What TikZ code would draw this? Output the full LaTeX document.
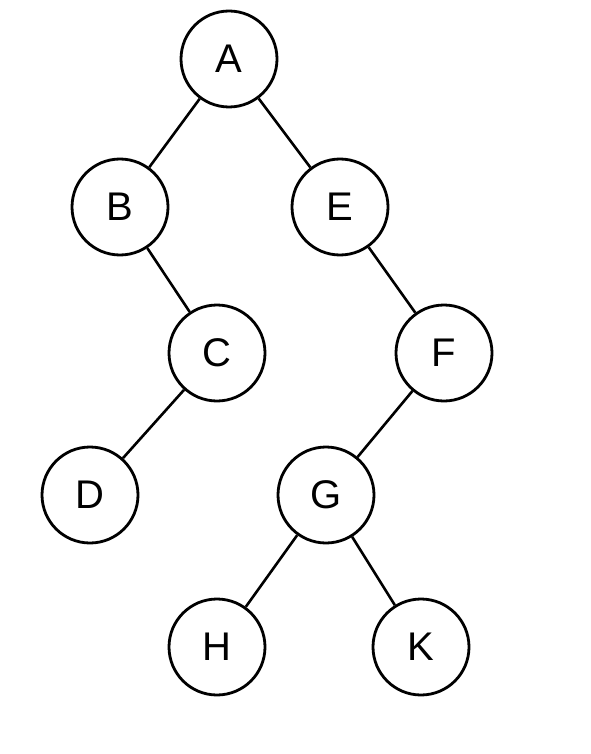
\documentclass[tikz,border=0pt]{standalone}
\usepackage{fontspec}
\setmainfont{Liberation Sans}
\begin{document}
\begin{tikzpicture}[x=1pt,y=-1pt,
  vert/.style={circle,draw=black,line width=2.8pt,minimum size=96pt,inner sep=0pt,fill=white,font=\fontsize{40}{44}\selectfont},
  edge/.style={line width=2.6pt,draw=black}]
\useasboundingbox (0,0) rectangle (590,754);
\node[vert] (A) at (229,59) {A};
\node[vert] (B) at (120,207) {B};
\node[vert] (E) at (340,207) {E};
\node[vert] (C) at (217,353) {C};
\node[vert] (F) at (444,353) {F};
\node[vert] (D) at (90,495) {D};
\node[vert] (G) at (326,495) {G};
\node[vert] (H) at (217,647) {H};
\node[vert] (K) at (421,647) {K};
\draw[edge] (A) -- (B);
\draw[edge] (A) -- (E);
\draw[edge] (B) -- (C);
\draw[edge] (C) -- (D);
\draw[edge] (E) -- (F);
\draw[edge] (F) -- (G);
\draw[edge] (G) -- (H);
\draw[edge] (G) -- (K);
\end{tikzpicture}
\end{document}
